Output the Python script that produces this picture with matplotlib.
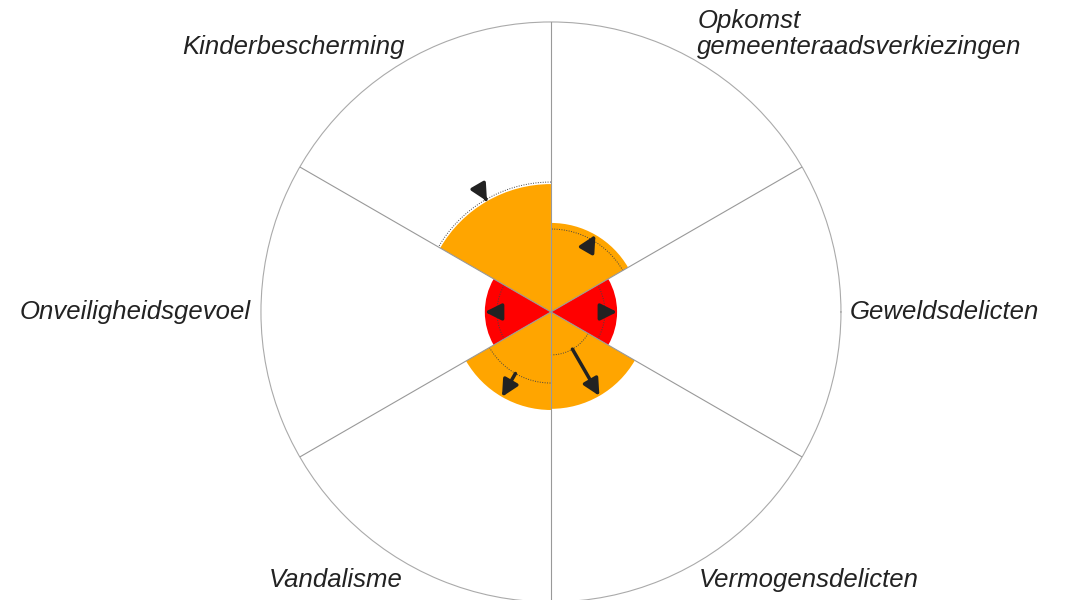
import numpy as np
import matplotlib
matplotlib.use('Agg')
import matplotlib.pyplot as plt

# sector data (radius on a 0-100 scale)
labels = ['Geweldsdelicten', 'Opkomst\ngemeenteraadsverkiezingen', 'Kinderbescherming',
          'Onveiligheidsgevoel', 'Vandalisme', 'Vermogensdelicten']
angles_deg = [0, 60, 120, 180, 240, 300]
current = [22.8, 30.7, 44.1, 22.8, 33.8, 33.4]
previous = [18.6, 28.6, 44.8, 18.6, 24.5, 14.8]
colors = ['#ff0000', '#ffa500', '#ffa500', '#ff0000', '#ffa500', '#ffa500']

plt.rcParams['font.family'] = ['Liberation Sans', 'DejaVu Sans']

fig = plt.figure(figsize=(10.66, 6.0), dpi=100)
ax = fig.add_axes([0.2448, -0.0033, 0.5441, 0.9667], projection='polar')

theta = np.deg2rad(angles_deg)
width = np.deg2rad(60)

ax.bar(theta, current, width=width, color=colors, edgecolor='none', zorder=1)

# dotted arcs for the previous value
for t, p in zip(theta, previous):
    tt = np.linspace(t - width / 2, t + width / 2, 60)
    ax.plot(tt, [p] * len(tt), linestyle=(0, (1, 1.5)), color='#444444', lw=0.7, zorder=2)

# arrows from previous to current
for t, p, c in zip(theta, previous, current):
    ax.annotate('', xy=(t, c), xytext=(t, p),
                arrowprops=dict(arrowstyle='-|>,head_length=1.0,head_width=0.5',
                                color='#222222', lw=2.5, shrinkA=0, shrinkB=0),
                zorder=4)

# labels around the circle
for t, a, lab in zip(theta, angles_deg, labels):
    r = 102
    if a == 0:
        ha, va = 'left', 'center'
        r = 103
    elif a == 180:
        ha, va = 'right', 'center'
        r = 103.5
    elif a < 180:
        ha, va = ('left' if a < 90 else 'right'), 'bottom'
        r = 100.8
    else:
        ha, va = ('left' if a > 270 else 'right'), 'top'
    ax.text(t, r, lab, ha=ha, va=va, fontsize=18.5, style='italic',
            color='#222222', linespacing=1.1, multialignment='left')

ax.set_ylim(0, 100)
ax.set_xticks(np.deg2rad([30, 90, 150, 210, 270, 330]))
ax.set_xticklabels([])
ax.set_yticks([])
ax.xaxis.grid(True, color='#999999', lw=0.8)
ax.set_axisbelow(False)
ax.spines['polar'].set_color('#aaaaaa')
ax.spines['polar'].set_linewidth(0.8)

fig.savefig('out.png', dpi=100)
